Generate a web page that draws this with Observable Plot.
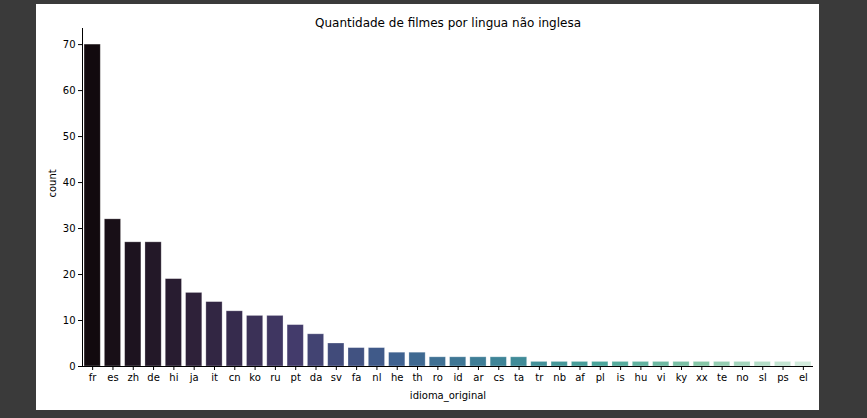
<!DOCTYPE html>
<html>
<head>
<meta charset="utf-8">
<script src="https://cdn.jsdelivr.net/npm/d3@7"></script>
<script src="https://cdn.jsdelivr.net/npm/@observablehq/plot@0.6"></script>
<style>
  html, body { margin: 0; padding: 0; background: #3a3a3a; width: 867px; height: 418px; overflow: hidden; }
  #panel { position: absolute; left: 36px; top: 4px; width: 783px; height: 406px; background: #fff; }
  #panel svg { display: block; }
</style>
</head>
<body>
<div id="panel"></div>
<script>
const title = "Quantidade de filmes por lingua não inglesa";
const xLabel = "idioma_original";
const yLabel = "count";
const languages = ["fr","es","zh","de","hi","ja","it","cn","ko","ru","pt","da","sv","fa","nl","he","th","ro","id","ar","cs","ta","tr","nb","af","pl","is","hu","vi","ky","xx","te","no","sl","ps","el"];
const counts = [70,32,27,27,19,16,14,12,11,11,9,7,5,4,4,3,3,2,2,2,2,2,1,1,1,1,1,1,1,1,1,1,1,1,1,1];
const yTicks = [0,10,20,30,40,50,60,70];
// desaturated "mako" palette anchors
const paletteAnchors = ["#120a0e","#2e2139","#433b6b","#3f6290","#3e8497","#4aa59b","#86c7a7","#d2ebdc"];

const data = languages.map((lang, i) => ({lang, count: counts[i]}));
const interp = d3.piecewise(d3.interpolateRgb, paletteAnchors);
const palette = languages.map((_, i) => interp(i / (languages.length - 1)));
const yMax = d3.max(counts) * 1.05;

const font = "DejaVu Sans, sans-serif";

const leftSpine = (index, scales, values, dims) => {
  const svg = d3.create("svg:g");
  svg.append("line")
    .attr("x1", dims.marginLeft + 0.5).attr("x2", dims.marginLeft + 0.5)
    .attr("y1", scales.y(0)).attr("y2", scales.y(yMax))
    .attr("stroke", "#000").attr("stroke-width", 1);
  return svg.node();
};

const chart = Plot.plot({
  width: 783,
  height: 406,
  marginLeft: 46,
  marginRight: 6,
  marginTop: 24,
  marginBottom: 44,
  style: {background: "#fff", fontFamily: font, color: "#000"},
  x: {domain: languages, paddingInner: 0.2, paddingOuter: 0.1, round: false, label: null},
  y: {domain: [0, yMax], label: null},
  color: {domain: languages, range: palette},
  marks: [
    Plot.barY(data, {x: "lang", y: "count", fill: "lang", stroke: "#ffffff", strokeOpacity: 0.35, strokeWidth: 0.8}),
    Plot.ruleY([0], {stroke: "#000", strokeWidth: 1}),
    leftSpine,
    Plot.axisX({tickSize: 4, tickPadding: 3, fontSize: 10, label: null, stroke: "#000"}),
    Plot.axisY({ticks: yTicks, tickSize: 4, tickPadding: 3, fontSize: 10, label: null, stroke: "#000"}),
    Plot.text([title], {frameAnchor: "top", dy: -10, fontSize: 12, fill: "#000"}),
    Plot.text([xLabel], {frameAnchor: "bottom", dy: 32, fontSize: 10, fill: "#000"}),
    Plot.text([yLabel], {frameAnchor: "left", dx: -30, rotate: -90, fontSize: 10, fill: "#000"})
  ]
});
document.getElementById("panel").appendChild(chart);
</script>
</body>
</html>
